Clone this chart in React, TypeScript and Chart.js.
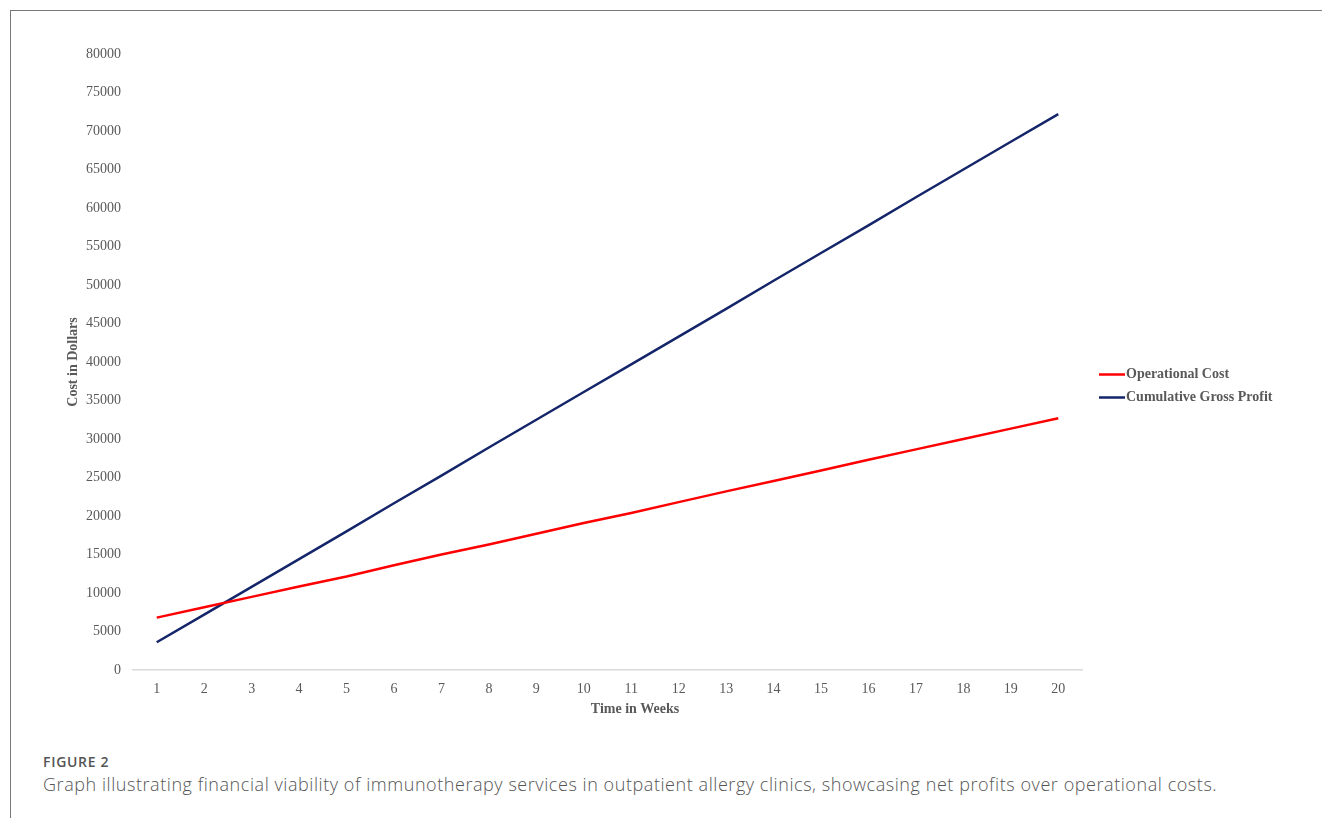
import React, { useEffect, useRef } from "react";
import { Chart, registerables } from "chart.js";

Chart.register(...registerables);

const weeks = ["1", "2", "3", "4", "5", "6", "7", "8", "9", "10", "11", "12", "13", "14", "15", "16", "17", "18", "19", "20"];
const operationalCost = [6800, 8150, 9500, 10850, 12150, 13600, 15000, 16300, 17700, 19100, 20400, 21800, 23200, 24550, 25900, 27300, 28650, 30000, 31350, 32700];
const cumulativeGrossProfit = [3600, 7200, 10800, 14400, 18000, 21650, 25250, 28900, 32500, 36100, 39700, 43300, 46900, 50550, 54150, 57750, 61400, 65000, 68600, 72200];
const seriesNames = ["Operational Cost", "Cumulative Gross Profit"];
const seriesColors = ["#ff0000", "#14256a"];
const yMin = 0;
const yMax = 80000;
const yStep = 5000;
const xTitle = "Time in Weeks";
const yTitle = "Cost in Dollars";
const figureLabel = "FIGURE 2";
const caption = "Graph illustrating financial viability of immunotherapy services in outpatient allergy clinics, showcasing net profits over operational costs.";

const SERIF = "'Liberation Serif', 'Times New Roman', serif";
const TEXT_GRAY = "#595959";

const sideLegend = {
  id: "sideLegend",
  afterDraw(chart: any) {
    const { ctx, chartArea } = chart;
    const x0 = chartArea.right + 17;
    const mid = (chartArea.top + chartArea.bottom) / 2;
    ctx.save();
    ctx.font = `bold 14px ${SERIF}`;
    ctx.textBaseline = "middle";
    ctx.textAlign = "left";
    chart.data.datasets.forEach((ds: any, i: number) => {
      const y = mid + 12.5 + i * 23;
      ctx.strokeStyle = ds.borderColor;
      ctx.lineWidth = 2.5;
      ctx.beginPath();
      ctx.moveTo(x0, y);
      ctx.lineTo(x0 + 26, y);
      ctx.stroke();
      ctx.fillStyle = TEXT_GRAY;
      ctx.fillText(ds.label, x0 + 27, y);
    });
    // x-axis title (offset to the right as in the original figure)
    const xs = chart.scales.x;
    ctx.textAlign = "center";
    ctx.fillText(xTitle, (chartArea.left + chartArea.right) / 2 + 27.5, xs.bottom - 8.4);
    ctx.restore();
  },
};

export default function App() {
  const canvasRef = useRef<HTMLCanvasElement | null>(null);

  useEffect(() => {
    if (!canvasRef.current) return;
    const chart = new Chart(canvasRef.current, {
      type: "line",
      data: {
        labels: weeks,
        datasets: [
          {
            label: seriesNames[0],
            data: operationalCost,
            borderColor: seriesColors[0],
            backgroundColor: seriesColors[0],
            borderWidth: 2.5,
            pointRadius: 0,
            tension: 0,
          },
          {
            label: seriesNames[1],
            data: cumulativeGrossProfit,
            borderColor: seriesColors[1],
            backgroundColor: seriesColors[1],
            borderWidth: 2.5,
            pointRadius: 0,
            tension: 0,
          },
        ],
      },
      options: {
        responsive: false,
        animation: false,
        devicePixelRatio: 1,
        layout: { padding: { top: 54, left: 64.6, right: 240, bottom: 22.6 } },
        plugins: {
          legend: { display: false },
          tooltip: { enabled: false },
        },
        scales: {
          x: {
            offset: true,
            grid: { display: false, drawTicks: false },
            border: { display: true, color: "#d9d9d9", width: 1.5 },
            ticks: { color: TEXT_GRAY, font: { family: SERIF, size: 14 }, padding: 11, maxRotation: 0, autoSkip: false },
            title: { display: false, text: xTitle },
            afterFit: (scale: any) => {
              scale.height = 47.4;
            },
          },
          y: {
            min: yMin,
            max: yMax,
            grid: { display: false, drawTicks: false },
            border: { display: false },
            ticks: {
              stepSize: yStep,
              color: TEXT_GRAY,
              font: { family: SERIF, size: 14 },
              padding: 12,
              callback: (v: any) => String(v),
            },
            title: { display: true, text: yTitle, color: TEXT_GRAY, font: { family: SERIF, size: 14, weight: "bold" }, padding: { top: 0, bottom: 0 } },
            afterFit: (scale: any) => {
              scale.width = 68.4;
            },
          },
        },
      },
      plugins: [sideLegend],
    });
    return () => chart.destroy();
  }, []);

  return (
    <div style={{ position: "fixed", left: 0, top: 0, width: 1322, height: 818, overflow: "hidden", background: "#fff" }}>
      <div style={{ position: "absolute", left: 10, top: 10, width: 1400, height: 900, borderTop: "1.5px solid #777", borderLeft: "1.5px solid #777" }} />
      <canvas ref={canvasRef} width={1322} height={740} style={{ position: "absolute", left: 0, top: 0, width: 1322, height: 740 }} />
      <div style={{ position: "absolute", left: 43, top: 752, fontFamily: "'Open Sans', sans-serif", fontSize: 14, fontWeight: 600, color: "#555", letterSpacing: 0.7 }}>
        {figureLabel}
      </div>
      <div style={{ position: "absolute", left: 43, top: 772, fontFamily: "'Open Sans', sans-serif", fontSize: 18, fontWeight: 300, color: "#555", whiteSpace: "nowrap", letterSpacing: 0.56 }}>
        {caption}
      </div>
    </div>
  );
}
